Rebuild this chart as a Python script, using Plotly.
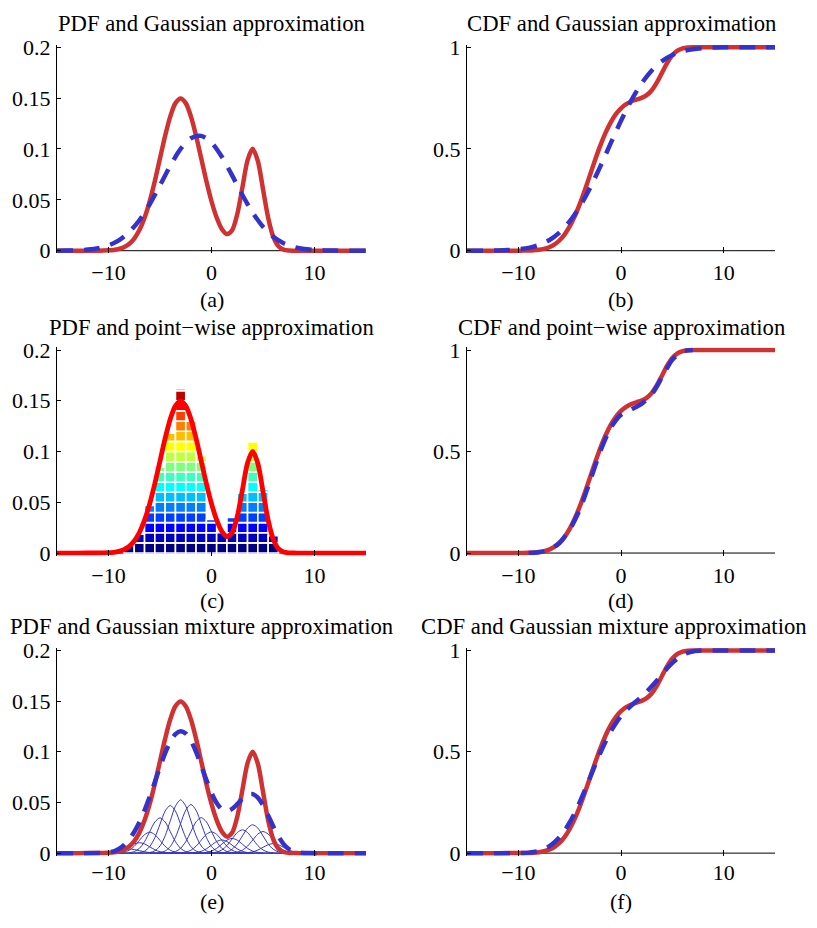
import plotly.graph_objects as go

# ---------------- data ----------------
# true PDF / CDF sampled on a common grid
pdf_x = [-15, -13, -11, -10.5, -10, -9.5, -9, -8.5, -8, -7.5, -7, -6.5, -6, -5.5, -5, -4.5,
         -4, -3.5, -3, -2.5, -2, -1.5, -1, -0.5, 0, 0.5, 1, 1.5, 2, 2.5, 3, 3.5, 4, 4.5,
         5, 5.5, 6, 6.5, 7, 7.5, 8, 8.5, 10, 12, 15]
pdf_true = [0, 0, 0.00005, 0.00013, 0.00033, 0.00076, 0.00166, 0.00341, 0.00657, 0.01190,
            0.02025, 0.03236, 0.04857, 0.06849, 0.09074, 0.11292, 0.13202, 0.14500, 0.14960,
            0.14500, 0.13202, 0.11292, 0.09074, 0.06849, 0.04860, 0.03258, 0.02136, 0.01629,
            0.02007, 0.03579, 0.06216, 0.08878, 0.10007, 0.08815, 0.06055, 0.03240, 0.01350,
            0.00438, 0.00111, 0.00022, 0.00003, 0, 0, 0, 0]
cdf_true = [0, 0, 0.00002, 0.00007, 0.00017, 0.00043, 0.00101, 0.00224, 0.00466, 0.00917,
            0.01706, 0.03005, 0.05011, 0.07924, 0.11900, 0.16997, 0.23141, 0.30097, 0.37500,
            0.44903, 0.51860, 0.58003, 0.63101, 0.67076, 0.69990, 0.72001, 0.73328, 0.74239,
            0.75103, 0.76447, 0.78865, 0.82670, 0.87483, 0.92280, 0.96032, 0.98329, 0.99430,
            0.99844, 0.99966, 0.99994, 1, 1, 1, 1, 1]

# single Gaussian approximation
gauss_x = list(range(-15, 16))
gauss_pdf = [0.00006, 0.00016, 0.00044, 0.00109, 0.00248, 0.00521, 0.01011, 0.01811, 0.02994,
             0.04566, 0.06426, 0.08345, 0.10000, 0.11057, 0.11282, 0.10622, 0.09227, 0.07397,
             0.05472, 0.03735, 0.02352, 0.01367, 0.00733, 0.00363, 0.00166, 0.00070, 0.00027,
             0.00010, 0.00003, 0.00001, 0]
gauss_cdf = [0.00005, 0.00015, 0.00043, 0.00115, 0.00285, 0.00655, 0.0140, 0.0278, 0.0515,
             0.0890, 0.1439, 0.2177, 0.3099, 0.4157, 0.5283, 0.6384, 0.7383, 0.8216, 0.8859,
             0.9317, 0.9618, 0.9801, 0.9903, 0.9956, 0.9982, 0.9993, 0.9997, 0.9999, 1, 1, 1]

# point-wise approximation (bars) and its CDF
bar_x = [-8, -7, -6, -5, -4, -3, -2, -1, 0, 1, 2, 3, 4, 5, 6]
bar_h = [0.0074, 0.0185, 0.047, 0.0846, 0.118, 0.162, 0.131, 0.0958, 0.033, 0.020, 0.035,
         0.059, 0.1095, 0.063, 0.017]
bar_cell = 0.01
pw_cdf_x = [-9, -8, -7, -6, -5, -4, -3, -2, -1, 0, 1, 2, 3, 4, 5, 6, 7]
pw_cdf = [0, 0.0037, 0.0167, 0.0494, 0.1152, 0.2165, 0.3565, 0.5030, 0.6164, 0.6808, 0.7073,
          0.7348, 0.7818, 0.8661, 0.9524, 0.9924, 1.0]

# Gaussian mixture approximation
comp_centers = [-8, -7, -6, -5, -4, -3, -2, -1, 0, 1, 2, 3, 4, 5, 6]
comp_peak = [0.004, 0.0103, 0.0207, 0.0348, 0.047, 0.0526, 0.048, 0.035, 0.021, 0.013, 0.0145,
             0.023, 0.028, 0.0213, 0.0094]
comp_offsets = [-4, -3.5, -3, -2.5, -2, -1.5, -1, -0.5, 0, 0.5, 1, 1.5, 2, 2.5, 3, 3.5, 4]
comp_profile = [0.0003, 0.0022, 0.0111, 0.0439, 0.1353, 0.3247, 0.6065, 0.8825, 1, 0.8825,
                0.6065, 0.3247, 0.1353, 0.0439, 0.0111, 0.0022, 0.0003]
mix_x = [-15, -13, -11, -10.5, -10, -9.5, -9, -8.5, -8, -7.5, -7, -6.5, -6, -5.5, -5, -4.5,
         -4, -3.5, -3, -2.5, -2, -1.5, -1, -0.5, 0, 0.5, 1, 1.5, 2, 2.5, 3, 3.5, 4, 4.5, 5,
         5.5, 6, 6.5, 7, 7.5, 8, 8.5, 9, 9.5, 12, 15]
mix_pdf = [0, 0, 0.00005, 0.0002, 0.00066, 0.0018, 0.00406, 0.00786, 0.01345, 0.02097,
           0.03053, 0.04214, 0.05554, 0.07017, 0.08496, 0.09864, 0.10982, 0.11731, 0.12013,
           0.11793, 0.11087, 0.09989, 0.08643, 0.07233, 0.05943, 0.04937, 0.04324, 0.04148,
           0.0436, 0.04836, 0.05377, 0.05766, 0.05825, 0.0547, 0.04725, 0.03722, 0.02637,
           0.0165, 0.0089, 0.00405, 0.00152, 0.00046, 0.00011, 0.00002, 0, 0]
mix_cdf = [0, 0, 0, 0.0001, 0.0003, 0.0009, 0.0025, 0.0056, 0.0111, 0.0201, 0.0335, 0.0525,
           0.0779, 0.1107, 0.1511, 0.1990, 0.2534, 0.3126, 0.3745, 0.4365, 0.4962, 0.5511,
           0.5997, 0.6411, 0.6754, 0.7038, 0.7279, 0.7500, 0.7722, 0.7962, 0.8228, 0.8518,
           0.8820, 0.9115, 0.9381, 0.9601, 0.9767, 0.9879, 0.9945, 0.9979, 0.9993, 0.9998,
           1.0, 1.0, 1.0, 1.0]

titles = ["PDF and Gaussian approximation", "CDF and Gaussian approximation",
          "PDF and point\u2212wise approximation", "CDF and point\u2212wise approximation",
          "PDF and Gaussian mixture approximation", "CDF and Gaussian mixture approximation"]
captions = ["(a)", "(b)", "(c)", "(d)", "(e)", "(f)"]
x_ticks = [-10, 0, 10]
pdf_ticks = [0, 0.05, 0.1, 0.15, 0.2]
pdf_ticktext = ["0", "0.05", "0.1", "0.15", "0.2"]
cdf_ticks = [0, 0.5, 1]
cdf_ticktext = ["0", "0.5", "1"]

# ---------------- style ----------------
RED = "rgb(208,50,50)"
PURE_RED = "rgb(255,0,0)"
BLUE = "rgb(51,51,204)"
FONT = "Liberation Serif, Times New Roman, serif"
FS = 22
FS_TITLE = 22.7
W, H = 817, 928
LW = 4.5
DASH = "16px,11px"

fig = go.Figure()


def refs(p):
    return ("x" if p == 1 else f"x{p}"), ("y" if p == 1 else f"y{p}")


def add_line(p, x, y, color, width=LW, dash=None):
    xr, yr = refs(p)
    fig.add_trace(go.Scatter(x=x, y=y, xaxis=xr, yaxis=yr, mode="lines",
                             line=dict(color=color, width=width, dash=dash,
                                       shape="spline", smoothing=0.8),
                             hoverinfo="skip", showlegend=False))


def jet(t):
    r = min(1.0, max(0.0, 1.5 - abs(4 * t - 3)))
    g = min(1.0, max(0.0, 1.5 - abs(4 * t - 2)))
    b = min(1.0, max(0.0, 1.5 - abs(4 * t - 1)))
    return f"rgb({int(r*255)},{int(g*255)},{int(b*255)})"


# (a)
add_line(1, pdf_x, pdf_true, RED)
add_line(1, gauss_x, gauss_pdf, BLUE, dash=DASH)
# (b)
add_line(2, pdf_x, cdf_true, RED)
add_line(2, gauss_x, gauss_cdf, BLUE, dash=DASH)
# (c) bars split in cells coloured by level
n_levels = 17
for k in range(n_levels):
    lo = k * bar_cell
    xs, hs = [], []
    for xv, h in zip(bar_x, bar_h):
        if h > lo + 1e-9:
            xs.append(xv)
            hs.append(min(bar_cell, h - lo))
    if xs:
        fig.add_trace(go.Bar(x=xs, y=hs, base=lo, width=1, xaxis="x3", yaxis="y3",
                             marker=dict(color=jet(k / 16), line=dict(color="white", width=1.6)),
                             hoverinfo="skip", showlegend=False))
add_line(3, pdf_x, pdf_true, PURE_RED, width=4.8)
# (d)
add_line(4, pdf_x, cdf_true, RED)
add_line(4, pw_cdf_x, pw_cdf, BLUE, dash=DASH)
# (e)
for c, pk in zip(comp_centers, comp_peak):
    add_line(5, [c + o for o in comp_offsets], [pk * v for v in comp_profile], BLUE, width=1)
add_line(5, pdf_x, pdf_true, RED)
add_line(5, mix_x, mix_pdf, BLUE, dash=DASH)
# (f)
add_line(6, pdf_x, cdf_true, RED)
add_line(6, mix_x, mix_cdf, BLUE, dash=DASH)

# ---------------- layout ----------------
col_px = [(57, 366), (467, 775)]
row_px = [(38, 246), (347.5, 555), (654.5, 861.7)]
pad = 2.6

layout = dict(width=W, height=H, margin=dict(l=0, r=0, t=0, b=0),
              paper_bgcolor="white", plot_bgcolor="white", barmode="overlay",
              showlegend=False, font=dict(family=FONT, size=FS, color="black"))
shapes = []
annotations = []
for p in range(1, 7):
    r = (p - 1) // 2
    c = (p - 1) % 2
    x0, x1 = col_px[c]
    top, bot = row_px[r]
    is_pdf = (c == 0)
    xr, yr = refs(p)
    xkey = "xaxis" if p == 1 else f"xaxis{p}"
    ykey = "yaxis" if p == 1 else f"yaxis{p}"
    ymax = 0.2 if is_pdf else 1.0
    e = ymax * pad / (bot - top)
    layout[xkey] = dict(domain=[x0 / W, x1 / W], anchor=yr, range=[-15, 15],
                        tickvals=x_ticks, ticks="inside", ticklen=6, tickwidth=1,
                        tickcolor="black", showline=False, showgrid=False, zeroline=False,
                        tickfont=dict(family=FONT, size=FS, color="black"),
                        ticklabelstandoff=4 if r < 2 else 1, fixedrange=True)
    layout[ykey] = dict(domain=[1 - (bot + pad) / H, 1 - (top - pad) / H], anchor=xr,
                        range=[-e, ymax + e],
                        tickvals=pdf_ticks if is_pdf else cdf_ticks,
                        ticktext=pdf_ticktext if is_pdf else cdf_ticktext,
                        ticks="inside", ticklen=4, tickwidth=1, tickcolor="black",
                        showline=True, linecolor="black", linewidth=1,
                        showgrid=False, zeroline=False,
                        tickfont=dict(family=FONT, size=FS, color="black"),
                        ticklabelstandoff=1, fixedrange=True)
    shapes.append(dict(type="line", xref=xr, yref=yr, x0=-15, x1=15, y0=0, y1=0,
                       line=dict(color="black", width=1), layer="below"))

title_y = [14, 324, 630]
cap_y = [295.7, 603.7, 911]
title_x = [[211.5, 621], [211.5, 621], [201, 614]]
for p in range(6):
    r, c = p // 2, p % 2
    annotations.append(dict(text=titles[p], xref="paper", yref="paper",
                            x=title_x[r][c] / W, y=1 - title_y[r] / H,
                            xanchor="center", yanchor="middle", showarrow=False,
                            font=dict(family=FONT, size=FS_TITLE, color="black")))
    annotations.append(dict(text=captions[p], xref="paper", yref="paper",
                            x=title_x[0][c] / W, y=1 - cap_y[r] / H,
                            xanchor="center", yanchor="middle", showarrow=False,
                            font=dict(family=FONT, size=FS, color="black")))
layout["shapes"] = shapes
layout["annotations"] = annotations
fig.update_layout(**layout)

fig.write_html("out.html", config={"displayModeBar": False})
